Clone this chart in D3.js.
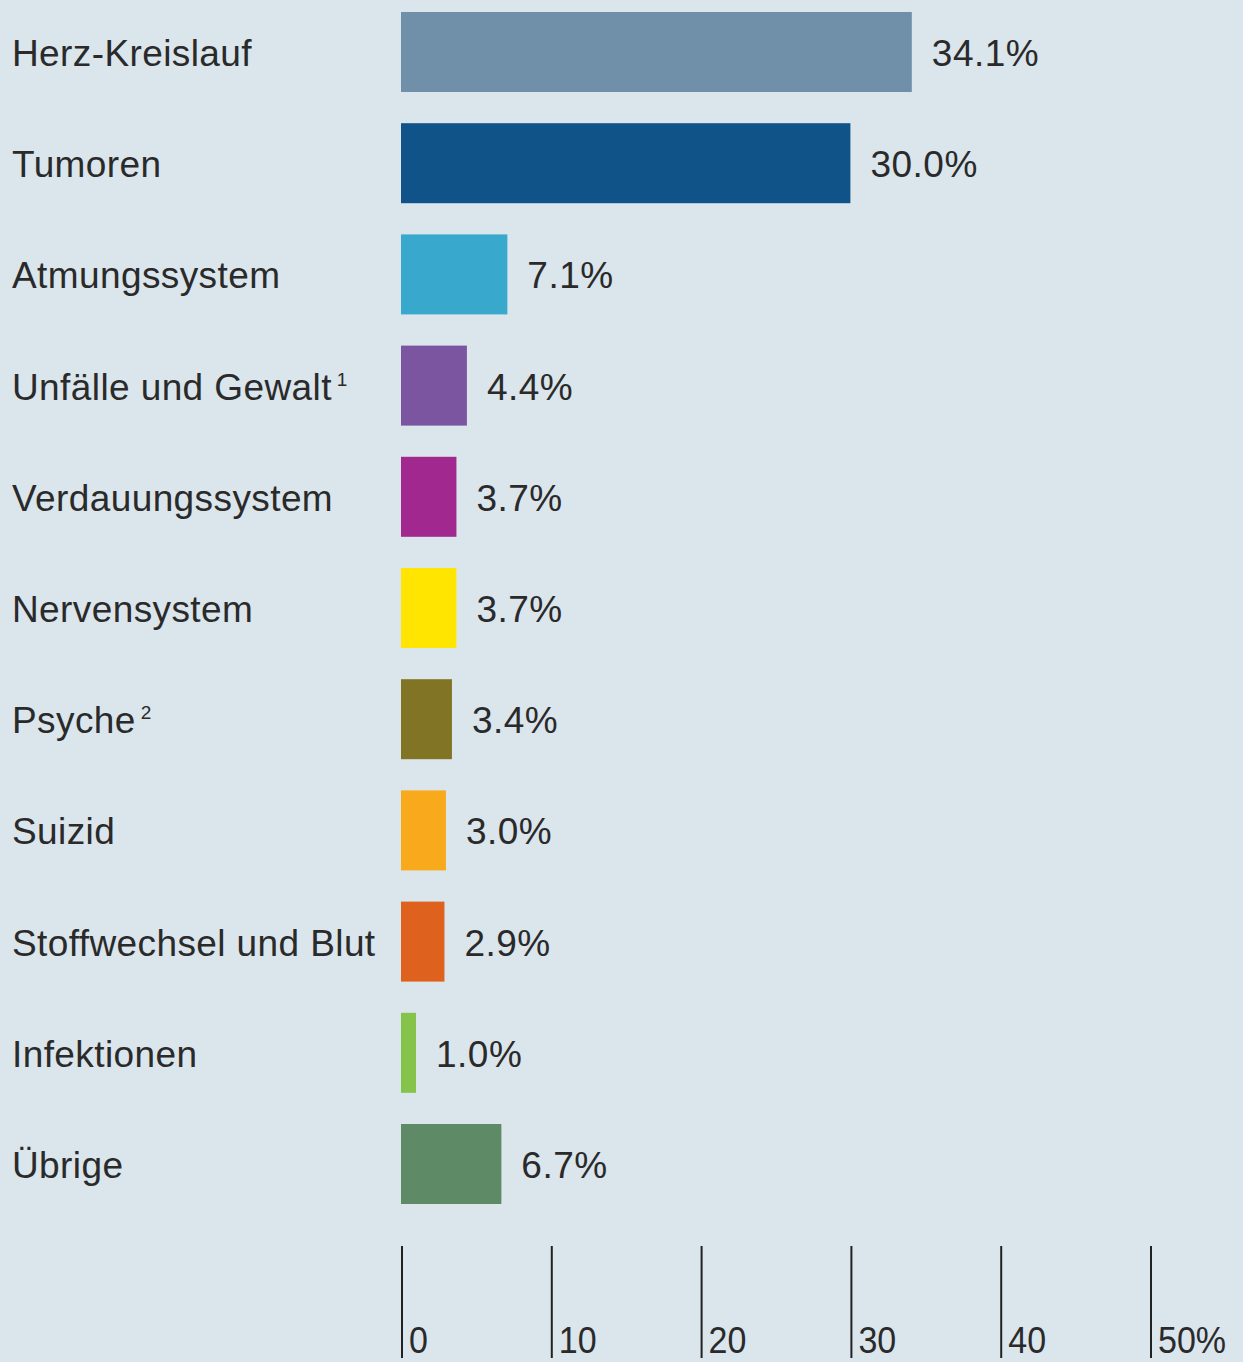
<!DOCTYPE html>
<html>
<head>
<meta charset="utf-8">
<script src="https://cdn.jsdelivr.net/npm/d3@7"></script>
<style>
  html, body { margin: 0; padding: 0; background: #dae5ec; }
  svg { display: block; }
  text { font-family: "Liberation Sans", Arial, sans-serif; fill: #2a2a2a; }
</style>
</head>
<body>
<script>
const categories = ["Herz-Kreislauf", "Tumoren", "Atmungssystem", "Unfälle und Gewalt", "Verdauungssystem",
  "Nervensystem", "Psyche", "Suizid", "Stoffwechsel und Blut", "Infektionen", "Übrige"];
const footnotes = ["", "", "", "1", "", "", "2", "", "", "", ""];
const values = [34.1, 30.0, 7.1, 4.4, 3.7, 3.7, 3.4, 3.0, 2.9, 1.0, 6.7];
const valueLabels = ["34.1%", "30.0%", "7.1%", "4.4%", "3.7%", "3.7%", "3.4%", "3.0%", "2.9%", "1.0%", "6.7%"];
const colors = ["#7090aa", "#0f5389", "#38a9cc", "#7b55a0", "#a0288e", "#ffe500",
  "#817424", "#f9aa1c", "#de611e", "#86c34a", "#5f8a66"];
const tickValues = [0, 10, 20, 30, 40, 50];
const tickLabels = ["0", "10", "20", "30", "40", "50%"];

const W = 1243, H = 1362;
const svg = d3.select("body").append("svg").attr("width", W).attr("height", H);
svg.append("rect").attr("width", W).attr("height", H).attr("fill", "#dae5ec");

const x = d3.scaleLinear().domain([0, 50]).range([401, 1150]);
const y = d3.scaleBand().domain(categories).range([12, 1204]).paddingInner(0.2806).paddingOuter(0);

const rows = categories.map((c, i) => ({ c, v: values[i], lab: valueLabels[i], col: colors[i], fn: footnotes[i] }));

// bars
svg.append("g").selectAll("rect").data(rows).join("rect")
  .attr("x", x(0))
  .attr("y", d => y(d.c))
  .attr("width", d => x(d.v) - x(0))
  .attr("height", y.bandwidth())
  .attr("fill", d => d.col);

// category labels
const cl = svg.append("g").selectAll("text").data(rows).join("text")
  .attr("x", 12)
  .attr("y", d => y(d.c) + y.bandwidth() / 2 + 14)
  .attr("font-size", 37)
  .attr("letter-spacing", 0.4);
cl.append("tspan").text(d => d.c);
cl.filter(d => d.fn).append("tspan")
  .attr("dx", 5).attr("dy", -14).attr("font-size", 19).text(d => d.fn);

// value labels
svg.append("g").selectAll("text").data(rows).join("text")
  .attr("x", d => x(d.v) + 20)
  .attr("y", d => y(d.c) + y.bandwidth() / 2 + 14)
  .attr("font-size", 37)
  .attr("letter-spacing", 0.5)
  .text(d => d.lab);

// axis ticks
const ax = svg.append("g");
ax.selectAll("line").data(tickValues).join("line")
  .attr("x1", d => x(d) + 1).attr("x2", d => x(d) + 1)
  .attr("y1", 1246).attr("y2", 1358)
  .attr("stroke", "#222").attr("stroke-width", 2);
ax.selectAll("text").data(tickValues).join("text")
  .attr("transform", d => `translate(${x(d) + 8},1353) scale(0.92,1)`)
  .attr("font-size", 37)
  .text((d, i) => tickLabels[i]);
</script>
</body>
</html>
